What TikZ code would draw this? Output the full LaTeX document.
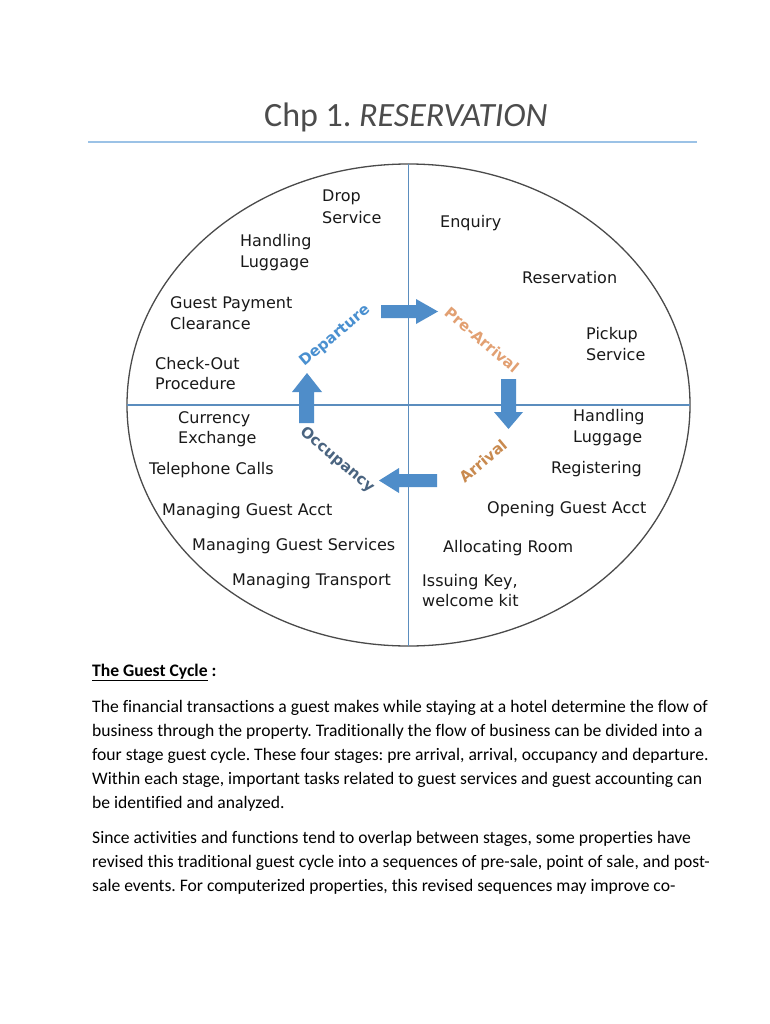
\documentclass[tikz,border=0pt]{standalone}
\usepackage{fontspec}
\setmainfont[Ligatures=NoCommon]{Carlito}
\newfontfamily\dvs{DejaVu Sans}
\definecolor{arrowblue}{HTML}{4F8DC9}
\definecolor{crossblue}{HTML}{5B8DBE}
\definecolor{titleline}{HTML}{9BC2E6}
\definecolor{ringgray}{HTML}{4A4A4A}
\definecolor{deptext}{HTML}{4A90D0}
\definecolor{pretext}{HTML}{E2A072}
\definecolor{arrtext}{HTML}{C98A4F}
\definecolor{occtext}{HTML}{4A6480}
\frenchspacing
\begin{document}
\begin{tikzpicture}[x=1pt,y=-1pt,
  lbl/.style={anchor=base west, inner sep=0pt, font=\dvs\fontsize{16}{19}\selectfont, text=black!90},
  body/.style={anchor=base west, inner sep=0pt, font=\fontsize{17.6}{20}\selectfont, text=black},
  stage/.style={inner sep=0pt, font=\dvs\bfseries\fontsize{15}{17}\selectfont},
  blockarrow/.style={fill=arrowblue, draw=none}]
\useasboundingbox (0,0) rectangle (770,1024);
\fill[white] (0,0) rectangle (770,1024);

% title
\node[anchor=base west, inner sep=0pt, text=black!70, font=\fontsize{34}{40}\selectfont] (title) at (264,127) {Chp 1. \textit{RESERVATION}};
\coordinate (tl1) at (88,142);
\coordinate (tl2) at (697,142);
\draw[titleline, line width=2pt] (tl1) -- (tl2);

% ring and cross
\coordinate (c) at (408.5,405);
\draw[ringgray, line width=1.3pt] (c) ellipse [x radius=281.5pt, y radius=241pt];
\coordinate (vt) at (408.5,164);
\coordinate (vb) at (408.5,646);
\coordinate (hl) at (127,405);
\coordinate (hr) at (690,405);
\draw[crossblue, line width=1.3pt] (vt) -- (vb);
\draw[crossblue, line width=1.3pt] (hl) -- (hr);

% block arrows
\fill[blockarrow] (381,305) -- (416,305) -- (416,299) -- (438,311.5) -- (416,324) -- (416,318) -- (381,318) -- cycle;
\fill[blockarrow] (501,379) -- (516,379) -- (516,412) -- (523,412) -- (508.5,429) -- (494,412) -- (501,412) -- cycle;
\fill[blockarrow] (437,474) -- (399,474) -- (399,468) -- (379,480.5) -- (399,493) -- (399,487) -- (437,487) -- cycle;
\fill[blockarrow] (299,423) -- (299,392) -- (292,392) -- (307,373) -- (322,392) -- (314,392) -- (314,423) -- cycle;

% stage labels
\node[stage, text=deptext, rotate=40] (dep) at (335,336) {Departure};
\node[stage, text=pretext, rotate=-40] (pre) at (482,340) {Pre-Arrival};
\node[stage, text=arrtext, rotate=40] (arr) at (483,461) {Arrival};
\node[stage, text=occtext, rotate=-40] (occ) at (337,460) {Occupancy};

% top-left quadrant
\node[lbl] (drop1) at (322,202) {Drop};
\node[lbl] (drop2) at (322,223) {Service};
\node[lbl] (hl1) at (240,246) {Handling};
\node[lbl] (hl2) at (240,267) {Luggage};
\node[lbl] (gp1) at (170,308) {Guest Payment};
\node[lbl] (gp2) at (170,329) {Clearance};
\node[lbl] (co1) at (155,369) {Check-Out};
\node[lbl] (co2) at (155,389) {Procedure};

% top-right quadrant
\node[lbl] (enq) at (440,228) {Enquiry};
\node[lbl] (res) at (522,283) {Reservation};
\node[lbl] (pk1) at (586,339) {Pickup};
\node[lbl] (pk2) at (586,360) {Service};

% bottom-left quadrant
\node[lbl] (cu1) at (178,423) {Currency};
\node[lbl] (cu2) at (178,443) {Exchange};
\node[lbl] (tel) at (149,474) {Telephone Calls};
\node[lbl] (mga) at (162,515) {Managing Guest Acct};
\node[lbl] (mgs) at (192,550) {Managing Guest Services};
\node[lbl] (mtr) at (232,585) {Managing Transport};

% bottom-right quadrant
\node[lbl] (hr1) at (573,421) {Handling};
\node[lbl] (hr2) at (573,442) {Luggage};
\node[lbl] (reg) at (551,473) {Registering};
\node[lbl] (oga) at (487,513) {Opening Guest Acct};
\node[lbl] (alr) at (443,552) {Allocating Room};
\node[lbl] (ik1) at (422,586) {Issuing Key,};
\node[lbl] (ik2) at (422,606) {welcome kit};

% body text
\node[body] (head) at (92,676) {\textbf{\underline{The Guest Cycle} :}};
\node[body] (p1) at (92,712) {The financial transactions a guest makes while staying at a hotel determine the flow of};
\node[body] (p2) at (92,736) {business through the property. Traditionally the flow of business can be divided into a};
\node[body] (p3) at (92,760) {four stage guest cycle. These four stages: pre arrival, arrival, occupancy and departure.};
\node[body] (p4) at (92,784) {Within each stage, important tasks related to guest services and guest accounting can};
\node[body] (p5) at (92,808) {be identified and analyzed.};
\node[body] (q1) at (92,843) {Since activities and functions tend to overlap between stages, some properties have};
\node[body] (q2) at (92,867) {revised this traditional guest cycle into a sequences of pre-sale, point of sale, and post-};
\node[body] (q3) at (92,891) {sale events. For computerized properties, this revised sequences may improve co-};
\end{tikzpicture}
\end{document}
